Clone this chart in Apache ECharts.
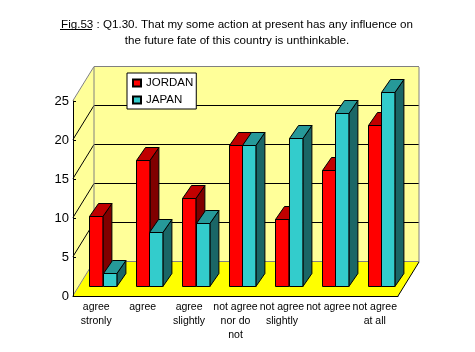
<!DOCTYPE html>
<html><head><meta charset="utf-8">
<style>html,body{margin:0;padding:0;background:#fff}#c{width:475px;height:352px}</style>
<script src="https://cdn.jsdelivr.net/npm/echarts@6/dist/echarts.min.js"></script>
</head><body><div id="c"></div>
<script>
const categories = ['agree\nstronly','agree','agree\nslightly','not agree\nnor do\nnot','not agree\nslightly','not agree','not agree\nat all'];
const jordan = [9.1,16.2,11.3,18.1,8.7,14.9,20.7];
const japan = [1.7,7.05,8.2,18.1,19.1,22.2,24.9];
const yTicks = [0,5,10,15,20,25];
const titleText = 'Fig.53 : Q1.30. That my some action at present has any influence on\nthe future fate of this country is unthinkable.';

const FONT = '"Liberation Sans", Arial, sans-serif';
const DX = 21, DY = 34;          // wall depth
const BDX = 9, BDY = 13;         // bar depth
const BASE = 10.4;               // bar base above axis
const BW = 13.4;

function wallsItem(params, api) {
  if (params.dataIndex !== 0) return null;
  const x0 = api.coord([0, 0])[0] - api.size([1, 0])[0] / 2;
  const x1 = x0 + api.size([1, 0])[0] * categories.length;
  const y0 = api.coord([0, 0])[1];
  const yT = api.coord([0, 25])[1];
  const black = {stroke:'#000', lineWidth:1, fill:null};
  const gray = {stroke:'#808080', lineWidth:1, fill:null};
  const ch = [];
  const wall = '#FFFF99';
  ch.push({type:'polygon', shape:{points:[[x0,y0],[x0+DX,y0-DY],[x0+DX,yT-DY],[x0,yT]]}, style:{fill:wall}});
  ch.push({type:'rect', shape:{x:x0+DX,y:yT-DY,width:x1-x0,height:y0-yT}, style:{fill:wall}});
  ch.push({type:'polygon', shape:{points:[[x0,y0],[x1,y0],[x1+DX,y0-DY],[x0+DX,y0-DY]]}, style:{fill:'#FFFF00'}});
  yTicks.forEach(t => {
    const y = Math.round(api.coord([0,t])[1]) - 0.5;
    const c = (t === 0 || t === 25) ? gray : black;
    ch.push({type:'line', shape:{x1:x0,y1:y,x2:x0+DX,y2:y-DY}, style:c});
    ch.push({type:'line', shape:{x1:x0+DX,y1:y-DY,x2:x1+DX,y2:y-DY}, style:c});
  });
  ch.push({type:'line', shape:{x1:x0+DX,y1:y0-DY,x2:x0+DX,y2:yT-DY}, style:gray});
  ch.push({type:'line', shape:{x1:x1+DX,y1:y0-DY,x2:x1+DX,y2:yT-DY}, style:gray});
  ch.push({type:'line', shape:{x1:x1,y1:y0,x2:x1+DX,y2:y0-DY}, style:black});
  return {type:'group', children:ch, silent:true};
}

function barRenderer(offset, front, top, side) {
  return function (params, api) {
    const cx = api.coord([api.value(0), 0])[0];
    const y0 = api.coord([0, 0])[1];
    const h = y0 - api.coord([0, api.value(1)])[1];
    const xL = Math.round(cx + offset) + 0.5, xR = xL + BW;
    const yB = Math.round(y0 - BASE) + 0.5, yT = Math.round(yB - h) + 0.5;
    const st = f => ({fill:f, stroke:'#000', lineWidth:1});
    return {type:'group', children:[
      {type:'polygon', shape:{points:[[xR,yB],[xR+BDX,yB-BDY],[xR+BDX,yT-BDY],[xR,yT]]}, style:st(side)},
      {type:'polygon', shape:{points:[[xL,yT],[xR,yT],[xR+BDX,yT-BDY],[xL+BDX,yT-BDY]]}, style:st(top)},
      {type:'rect', shape:{x:xL,y:yT,width:BW,height:yB-yT}, style:st(front)}
    ]};
  };
}

const chart = echarts.init(document.getElementById('c'), null, {renderer:'canvas'});
chart.setOption({
  animation:false,
  backgroundColor:'#fff',
  title:{text:titleText, left:232, top:12, textAlign:'center',
    textStyle:{fontFamily:FONT, fontWeight:'normal', fontSize:11.6, lineHeight:16, color:'#000'}},
  legend:{data:['JORDAN','JAPAN'], left:127, top:73, orient:'vertical', backgroundColor:'#fff',
    borderColor:'#000', borderWidth:1, borderRadius:0, padding:[4,3,3,5], icon:'rect', itemWidth:8, itemHeight:7, itemGap:5,
    textStyle:{fontFamily:FONT, fontSize:11.5, color:'#000'},
    selectedMode:false, z:20},
  grid:{left:73, right:77, top:101, bottom:56},
  xAxis:{type:'category', data:categories, z:10,
    axisLine:{lineStyle:{color:'#000',width:1}},
    axisTick:{alignWithLabel:false, inside:true, length:4, lineStyle:{color:'#000'}},
    axisLabel:{interval:0, margin:4, fontFamily:FONT, fontSize:10.5, lineHeight:14, color:'#000', hideOverlap:false},
    splitLine:{show:false}},
  yAxis:{type:'value', min:0, max:25, interval:5, z:10,
    axisLine:{show:true, lineStyle:{color:'#000',width:1}},
    axisTick:{show:true, inside:true, length:3, lineStyle:{color:'#000'}},
    axisLabel:{margin:4, fontFamily:FONT, fontSize:13, color:'#000'},
    splitLine:{show:false}},
  series:[
    {type:'custom', name:'walls', z:1, silent:true, renderItem:wallsItem, data:categories.map((c,i)=>[i,0]), encode:{x:0,y:1}},
    {type:'custom', name:'JORDAN', z:3, renderItem:barRenderer(-6.8,'#FF0000','#C00000','#800000'),
      itemStyle:{color:'#FF0000', borderColor:'#000', borderWidth:1}, data:jordan.map((v,i)=>[i,v]), encode:{x:0,y:1}},
    {type:'custom', name:'JAPAN', z:4, renderItem:barRenderer(6.6,'#33CCCC','#269999','#1A6666'),
      itemStyle:{color:'#33CCCC', borderColor:'#000', borderWidth:1}, data:japan.map((v,i)=>[i,v]), encode:{x:0,y:1}}
  ],
  graphic:[{type:'line', z:30, shape:{x1:60,y1:29.5,x2:92,y2:29.5}, style:{stroke:'#000',lineWidth:1}}]
});
</script></body></html>
